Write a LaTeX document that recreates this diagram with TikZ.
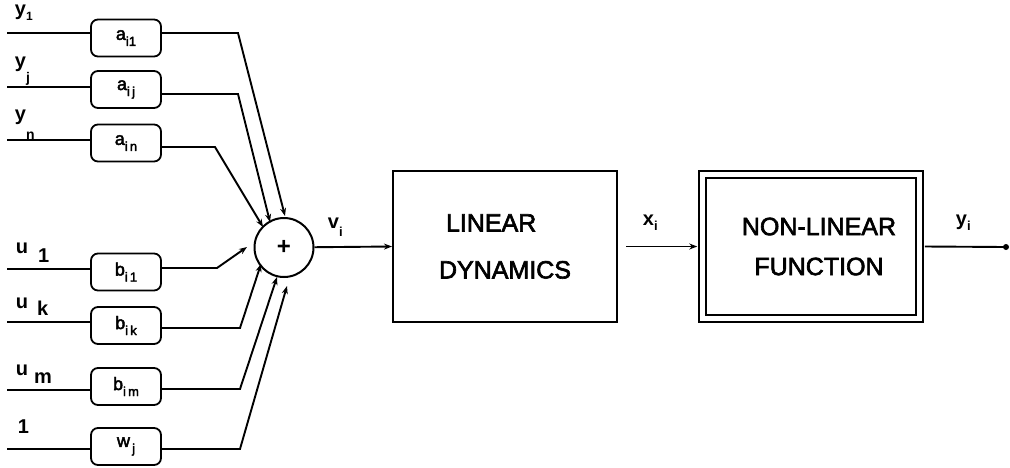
\documentclass[tikz,border=0pt]{standalone}
\usepackage{fontspec}
\setmainfont{Liberation Sans}
\newfontfamily\heavysans{Liberation Sans}[FakeBold=2.5]
\usetikzlibrary{arrows.meta}
% lowered index: #1 drop, #2 font size, #3 text
\newcommand{\lo}[3]{\raisebox{-#1pt}{\fontsize{#2}{#2}\selectfont #3}}

\begin{document}
\begin{tikzpicture}[x=1pt,y=-1pt,line width=1.9pt,
  wbox/.style={draw,rounded corners=7pt,minimum width=70pt,minimum height=37pt,
    inner sep=0pt,line width=1.8pt,font=\heavysans\fontsize{18}{18}\selectfont},
  lab/.style={anchor=base west,inner sep=0pt,font=\fontsize{20}{20}\selectfont\bfseries},
  arr/.style={-{Stealth[length=8pt,width=6pt]}},
  blk/.style={draw,line width=2pt,inner sep=0pt}]
\useasboundingbox (0,0) rectangle (1010,467);

% summing junction
\node[circle,draw,line width=2pt,minimum size=59pt,inner sep=0pt,
  font=\fontsize{24}{24}\selectfont\bfseries] (sum) at (284,247.5) {+};

% weight boxes: name / input y / box centre y / output y / bend x / tip x / tip y / text
\foreach \n/\yi/\yc/\yo/\bx/\tx/\ty/\t in {
  a1/33/38/33/238/285/216/{a\lo{6}{13}{i1}},
  aj/87/89.5/94/238/270/222/{a\lo{6}{13}{i\,j}},
  an/140/143/147/215/263/227/{a\lo{6}{13}{i\,n}},
  b1/269/272/268/217/247/247/{b\lo{6}{13}{i\,1}},
  bk/322/325.5/328/240/261/264/{b\lo{6}{13}{i\,k}},
  bm/390/386.5/389/240/277/277/{b\lo{6}{13}{i\,m}},
  w/449/446.5/449/240/287/286/{w\lo{6}{13}{\,j}}}{
  \node[wbox] (\n) at (126,\yc) {\t};
  \coordinate (in-\n) at (7,\yi);
  \draw (in-\n) -- (in-\n -| \n.west);
  \coordinate (bend-\n) at (\bx,\yo);
  \coordinate (tip-\n) at (\tx,\ty);
  \draw[arr] (bend-\n -| \n.east) -- (bend-\n) -- (tip-\n);
}

% input labels
\node[lab] (ly1) at (14,15) {y\lo{5}{12}{1}};
\node[lab] (lyj) at (14,67) {y\lo{15}{14}{j}};
\node[lab] (lyn) at (14,120) {y\lo{19}{14}{n}};
\node[lab] (lu1) at (15,253) {u\hspace{10pt}\lo{9}{20}{1}};
\node[lab] (luk) at (15,308) {u\hspace{9pt}\lo{7}{20}{k}};
\node[lab] (lum) at (15,375) {u\hspace{6pt}\lo{8}{20}{m}};
\node[lab] (lone) at (17,433) {1};

% dynamic blocks
\node[blk,minimum width=224pt,minimum height=151pt,align=left,
  font=\heavysans\fontsize{25}{47}\selectfont] (ld) at (505,246.5)
  {\hspace*{7pt}LINEAR\\DYNAMICS};
\node[blk,double,double distance=5pt,minimum width=216.5pt,minimum height=144pt,
  align=center,font=\heavysans\fontsize{25}{40}\selectfont] (nl) at (811,246.5)
  {\hspace*{16pt}NON-LINEAR\\\hspace*{16pt}FUNCTION};

% signal path
\draw[arr] (sum) -- (ld.west);
\node[lab] (lv) at (327,228) {v\lo{8}{13}{i}};
\draw[arr] ([xshift=8pt]ld.east) -- ([xshift=-4.5pt]nl.west);
\node[lab] (lx) at (642,225) {x\lo{5}{13}{i}};
\coordinate (yend) at (1006,247);
\draw ([xshift=4.5pt]nl.east) -- (yend);
\fill (yend) circle (3pt);
\node[lab] (ly) at (955,225) {y\lo{5}{13}{i}};
\end{tikzpicture}
\end{document}
